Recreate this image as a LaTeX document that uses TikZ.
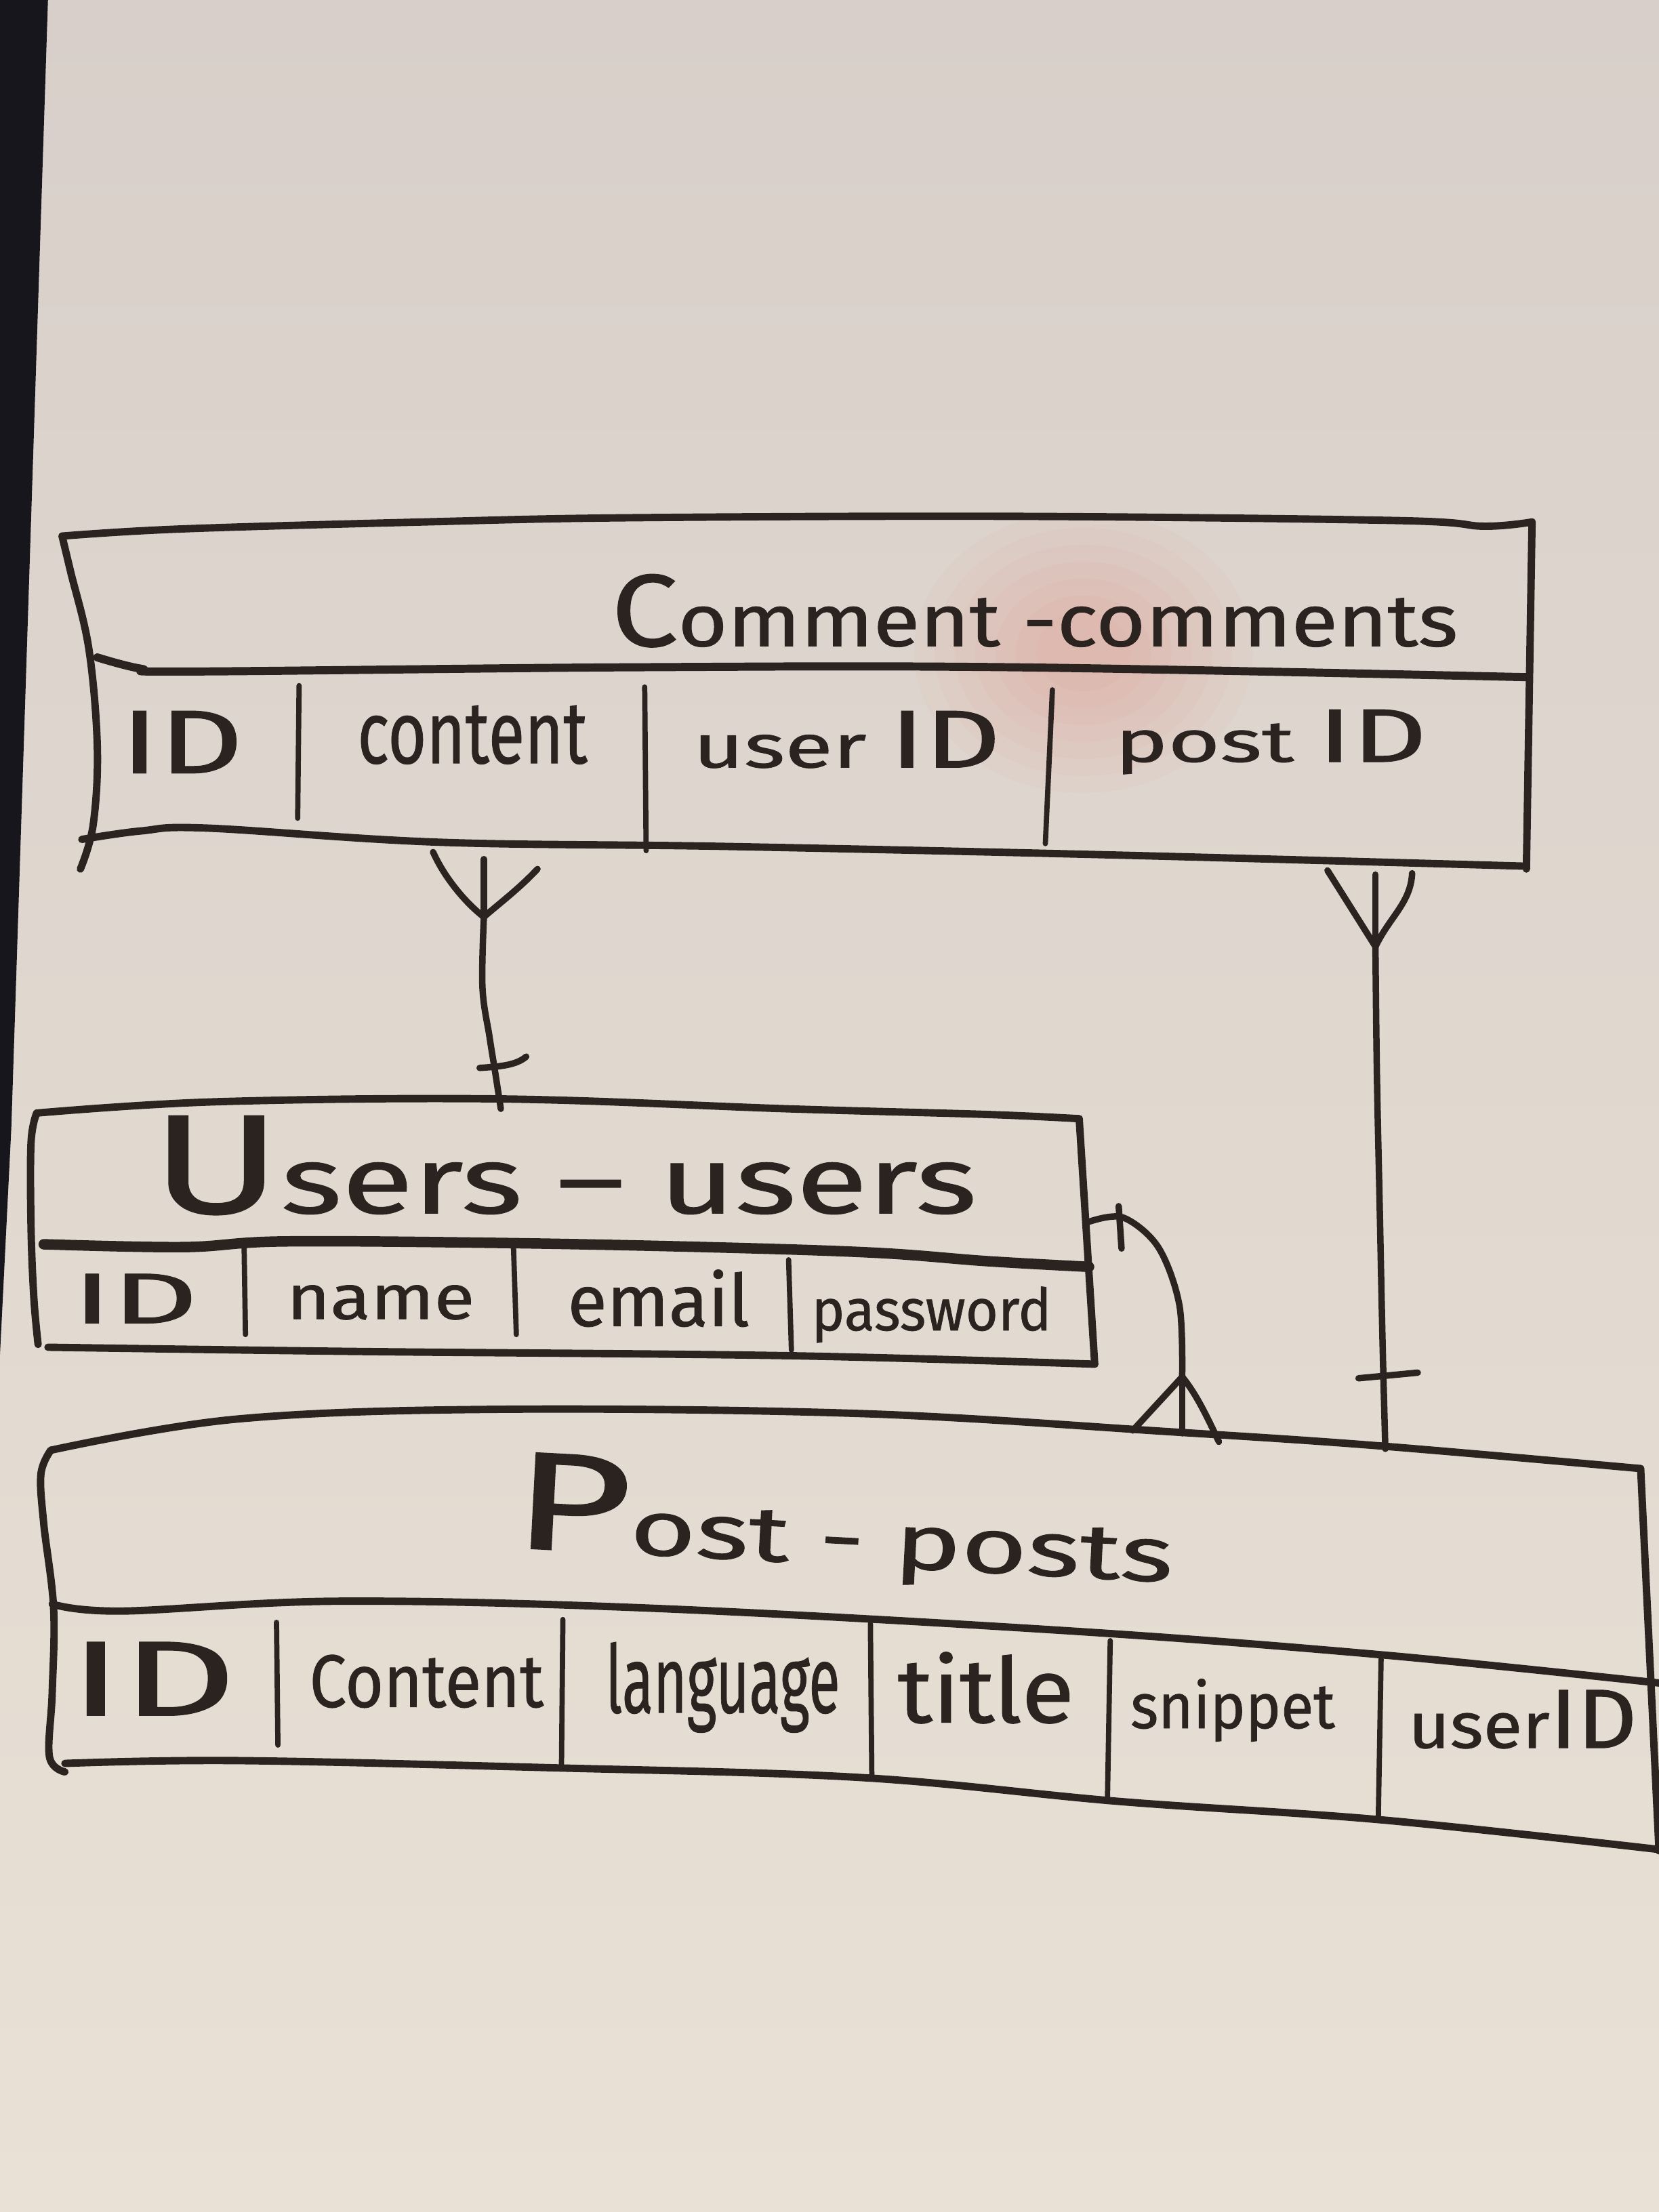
\documentclass[tikz,border=0pt]{standalone}
\usepackage{fontspec}
\setmainfont{Fira Sans}[FakeBold=0.8]
\usetikzlibrary{fadings}
\newlength{\dunit}\setlength{\dunit}{0.59227pt}
\definecolor{ink}{HTML}{2A2320}
\definecolor{boardtop}{HTML}{D8CFCA}
\definecolor{boardbot}{HTML}{E9E1D5}
\definecolor{edgedark}{HTML}{17161D}
\definecolor{glare}{HTML}{F06A5A}
\newcommand{\fitbox}[3]{\resizebox{#1\dunit}{#2\dunit}{#3}}
\newcommand{\fsz}[1]{\fontsize{#1}{#1}\selectfont}
\begin{document}
\begin{tikzpicture}[x=0.020816cm,y=-0.020816cm,
  boxline/.style={ink, line width=3.1pt, line cap=round, line join=round},
  divline/.style={ink, line width=2.2pt, line cap=round},
  sepline/.style={ink, line width=3.4pt, line cap=round, line join=round},
  relline/.style={ink, line width=2.7pt, line cap=round, line join=round},
  txt/.style={inner sep=0pt, anchor=base west, text=ink}]
\useasboundingbox (0,0) rectangle (1176,1568);
% board
\shade[top color=boardtop, bottom color=boardbot] (0,0) rectangle (1176,1568);
\fill[edgedark] (0,0) -- (34,0) -- (21,400) -- (8,800) -- (0,960) -- cycle;
% soft reflection of a light on the board
\foreach \r in {100,88,76,64,52,40,28}{
  \fill[glare, opacity=0.035] (768,462) ellipse ({\r*1.2} and \r);
}

% ---------- Comment table ----------
\draw[boxline] plot[smooth, tension=0.6] coordinates {(44,380) (127,375) (300,370) (447,367) (719,366) (991,369) (1052,373) (1086,370)};
\draw[boxline] plot[smooth, tension=0.6] coordinates {(44,380) (50,405) (63,460) (69,530) (66,585) (57,616)};
\draw[boxline] (1086,370) -- (1082,616);
\draw[sepline] plot[smooth, tension=0.6] coordinates {(69,466) (100,474) (134,476) (447,473) (719,473) (1082,480)};
\draw[boxline] plot[smooth, tension=0.6] coordinates {(58,595) (100,589) (147,587) (311,597) (515,600) (787,606) (1082,614)};
\draw[divline] (212,486) -- (211,580);
\draw[divline] (457,487) -- (458,603);
\draw[divline] (746,489) -- (741,598);
\node[txt] (tcomment) at (433,458) {\fitbox{600}{51}{\fsz{14}C\fsz{10}omment -comments}};
\node[txt] (cid) at (85,548) {\fitbox{87}{44}{ID}};
\node[txt] (ccontent) at (253,541) {\fitbox{163}{41}{content}};
\node[txt] (cuserid) at (491,544) {\fitbox{218}{40}{\fsz{10}user \fsz{13.5}ID}};
\node[txt] (cpostid) at (790,540) {\fitbox{221}{37}{\fsz{10}post \fsz{13}ID}};

% ---------- Users table ----------
\draw[boxline] plot[smooth, tension=0.6] coordinates {(26,789) (153,781) (356,779) (559,786) (700,790) (765,793)};
\draw[boxline] plot[smooth, tension=0.6] coordinates {(26,789) (22,810) (22,870) (24,920) (27,953)};
\draw[boxline] (765,793) -- (776,967);
\draw[ink, line width=4.4pt, line cap=round] plot[smooth, tension=0.6] coordinates {(31,882) (130,884) (200,880) (350,881) (500,884) (620,888) (700,894) (772,898)};
\draw[boxline] plot[smooth, tension=0.6] coordinates {(34,955) (254,958) (559,961) (776,967)};
\draw[divline] (173,881) -- (174,946);
\draw[divline] (364,884) -- (366,946);
\draw[divline] (559,893) -- (561,957);
\node[txt] (tusers) at (107,860) {\fitbox{585}{69}{\fsz{15}U\fsz{10}sers – users}};
\node[txt] (uid) at (51,938) {\fitbox{89}{35}{ID}};
\node[txt] (uname) at (203,935) {\fitbox{133}{24}{name}};
\node[txt] (uemail) at (402,940) {\fitbox{129}{40}{email}};
\node[txt] (upassword) at (575,943) {\fitbox{170}{31}{password}};

% ---------- Post table ----------
\draw[boxline] plot[smooth, tension=0.6] coordinates {(36,1028) (167,1006) (351,999) (610,1002) (831,1015) (979,1025) (1163,1041)};
\draw[boxline] plot[smooth, tension=0.6] coordinates {(36,1028) (29,1045) (31,1080) (38,1140) (37,1200) (35,1245) (46,1256)};
\draw[boxline] (1163,1041) -- (1176,1312);
\draw[boxline] plot[smooth, tension=0.6] coordinates {(37,1137) (86,1142) (241,1135) (462,1140) (757,1156) (979,1173) (1176,1193)};
\draw[boxline] plot[smooth, tension=0.6] coordinates {(46,1250) (167,1248) (388,1253) (610,1260) (794,1277) (979,1290) (1176,1311)};
\draw[divline] (196,1150) -- (197,1237);
\draw[divline] (399,1148) -- (398,1253);
\draw[divline] (617,1151) -- (618,1260);
\draw[divline] (787,1163) -- (785,1277);
\draw[divline] (979,1176) -- (977,1290);
\node[txt, rotate=-3] (tpost) at (362,1097) {\fitbox{469}{68}{\fsz{18}P\fsz{10}ost - posts}};
\node[txt] (pid) at (49,1216) {\fitbox{118}{52}{ID}};
\node[txt] (pcontent) at (219,1210) {\fitbox{166}{37}{Content}};
\node[txt] (planguage) at (429,1214) {\fitbox{166}{50}{language}};
\node[txt] (ptitle) at (636,1221) {\fitbox{125}{50}{title}};
\node[txt] (psnippet) at (801,1225) {\fitbox{145}{35}{snippet}};
\node[txt] (puserid) at (998,1239) {\fitbox{162}{41}{\fsz{10}user\fsz{13}ID}};

% ---------- relationship anchors ----------
\coordinate (cmA) at (343,609);
\coordinate (jA) at (343,650);
\coordinate (usTop) at (355,786);
\coordinate (cmB) at (975,620);
\coordinate (jB) at (975,671);
\coordinate (poTopB) at (982,1027);
\coordinate (usRight) at (772,866);
\coordinate (jC) at (838,976);
\coordinate (poTopC) at (838,1016);

% Comment (many) -- Users (one)
\draw[relline] (307,604) .. controls (315,622) and (330,640) .. (jA);
\draw[relline] (381,616) .. controls (368,630) and (352,642) .. (jA);
\draw[relline] (cmA) -- (jA);
\draw[relline] plot[smooth, tension=0.6] coordinates {(jA) (342,700) (347,735) (351,760) (usTop)};
\draw[relline] (340,757) .. controls (355,756) and (366,755) .. (373,749);

% Comment (many) -- Post (one)
\draw[relline] (941,617) -- (jB);
\draw[relline] (1001,619) .. controls (1000,640) and (985,650) .. (jB);
\draw[relline] (cmB) -- (jB);
\draw[relline] plot[smooth, tension=0.6] coordinates {(jB) (976,760) (978,855) (980,950) (poTopB)};
\draw[relline] (963,977) -- (1005,973);

% Users (one) -- Post (many)
\draw[relline] plot[smooth, tension=0.55] coordinates {(usRight) (796,863) (821,884) (836,925) (jC)};
\draw[relline] (jC) -- (poTopC);
\draw[relline] (jC) -- (803,1014);
\draw[relline] (jC) .. controls (848,988) and (856,1005) .. (864,1022);
\draw[relline] (793,855) -- (795,885);
\end{tikzpicture}
\end{document}
